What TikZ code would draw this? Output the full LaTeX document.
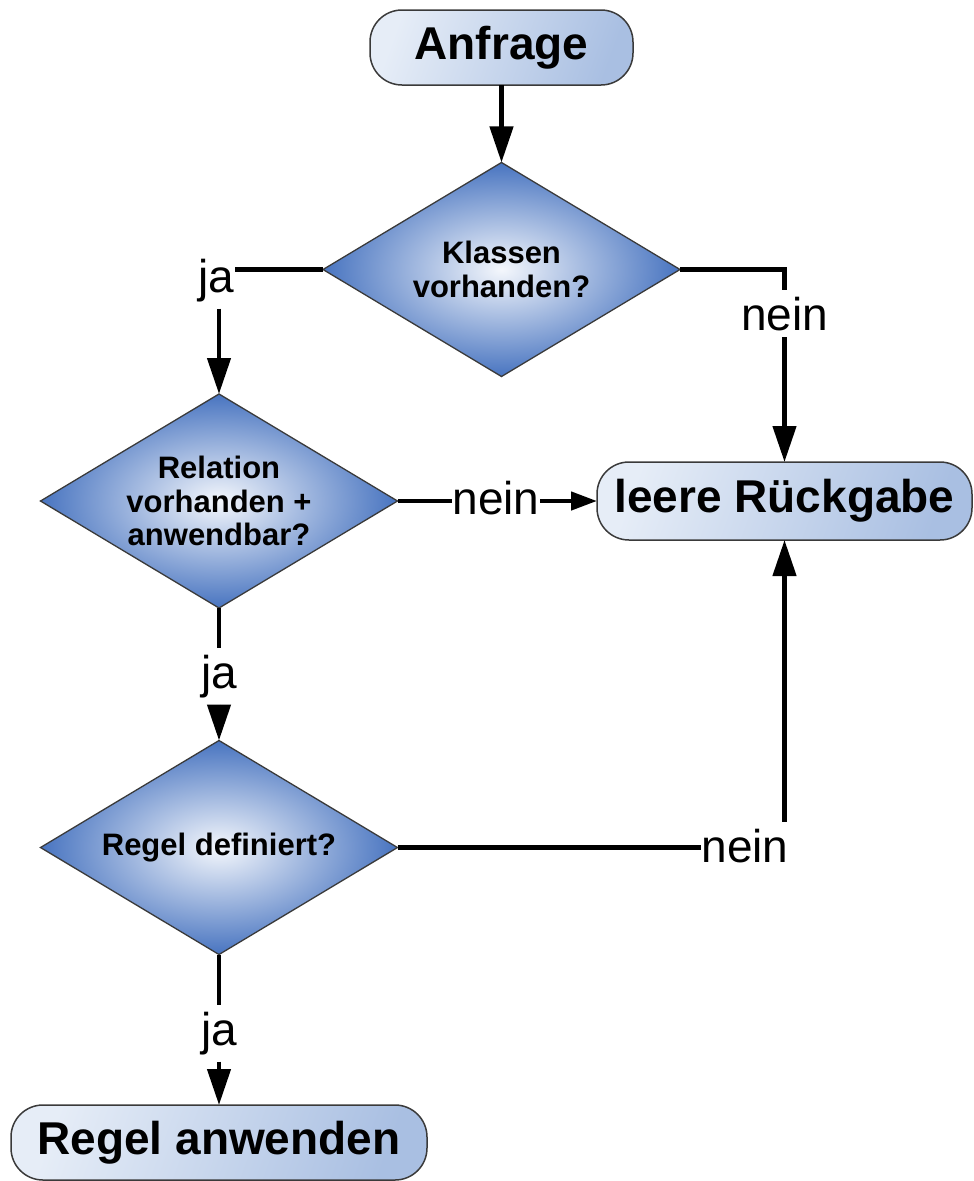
\documentclass[tikz,border=0pt]{standalone}
\usepackage{fontspec}
\setmainfont{Liberation Sans}
\usetikzlibrary{shapes.geometric,arrows.meta}

\definecolor{rahmen}{HTML}{3A3A3A}
\definecolor{boxhell}{HTML}{E6EDF7}
\definecolor{boxdunkel}{HTML}{A9BFE2}
\definecolor{rautehell}{HTML}{F4F7FC}
\definecolor{rautedunkel}{HTML}{4874C0}

\tikzset{
  ablauf/.style={draw=rahmen, line width=1.5pt, rounded corners=32pt,
    left color=boxhell, right color=boxdunkel, shading angle=70,
    minimum height=75pt, inner sep=0pt, outer sep=0pt,
    font=\bfseries\fontsize{46}{50}\selectfont},
  entscheidung/.style={diamond, aspect=1.67, draw=rahmen, line width=1.3pt,
    shading=radial, inner color=rautehell, outer color=rautedunkel,
    minimum width=357pt, minimum height=214pt, inner sep=0pt, outer sep=0pt,
    align=center, font=\bfseries\fontsize{31}{33.5}\selectfont},
  beschriftung/.style={font=\fontsize{46}{50}\selectfont,
    inner xsep=1pt, inner ysep=7pt, outer sep=0pt, anchor=base},
  verbinder/.style={line width=4.5pt},
  pfeil/.style={-{Triangle[length=36pt,width=23pt]}}
}

\begin{document}
\begin{tikzpicture}[x=1pt, y=-1pt]
  \useasboundingbox (0,0) rectangle (974,1181);

  \node [ablauf, minimum width=263pt] (anfrage) at (501.5,47.5) {Anfrage};
  \node [entscheidung] (klassen) at (501.5,269.5) {Klassen\\vorhanden?};
  \node [entscheidung] (relation) at (219,501) {Relation\\vorhanden +\\anwendbar?};
  \node [ablauf, minimum width=375pt, minimum height=78pt] (leer) at (784.5,501) {leere Rückgabe};
  \node [entscheidung] (regel) at (219,847.5) {Regel definiert?};
  \node [ablauf, minimum width=416pt] (anwenden) at (219,1142.5) {Regel anwenden};

  \node [beschriftung] (ja1) at (216,292) {ja};
  \node [beschriftung] (nein1) at (784.5,330) {nein};
  \node [beschriftung] (nein2) at (496,514) {nein};
  \node [beschriftung] (ja2) at (219,688) {ja};
  \node [beschriftung] (ja3) at (219,1045) {ja};
  \node [beschriftung] (nein3) at (745,862) {nein};

  \path [verbinder]
    (anfrage) edge [pfeil] (klassen)
    (klassen.west) edge (klassen.west -| ja1.east)
    (ja1.south -| relation.north) edge [pfeil] (relation.north)
    (nein1.south) edge [pfeil] (leer.north)
    (relation.east) edge (relation.east -| nein2.west)
    (nein2.east |- leer.west) edge [-{Triangle[length=26pt,width=18pt]}] (leer.west)
    (relation.south) edge (ja2.north)
    (ja2.south) edge [pfeil] (regel.north)
    (regel.south) edge (ja3.north)
    (ja3.south) edge [pfeil] (anwenden.north)
    (regel.east) edge (regel.east -| nein3.west)
    (nein3.north -| leer.south) edge [pfeil] (leer.south);
  \draw [verbinder] (klassen.east) -| (nein1.north);
\end{tikzpicture}
\end{document}
